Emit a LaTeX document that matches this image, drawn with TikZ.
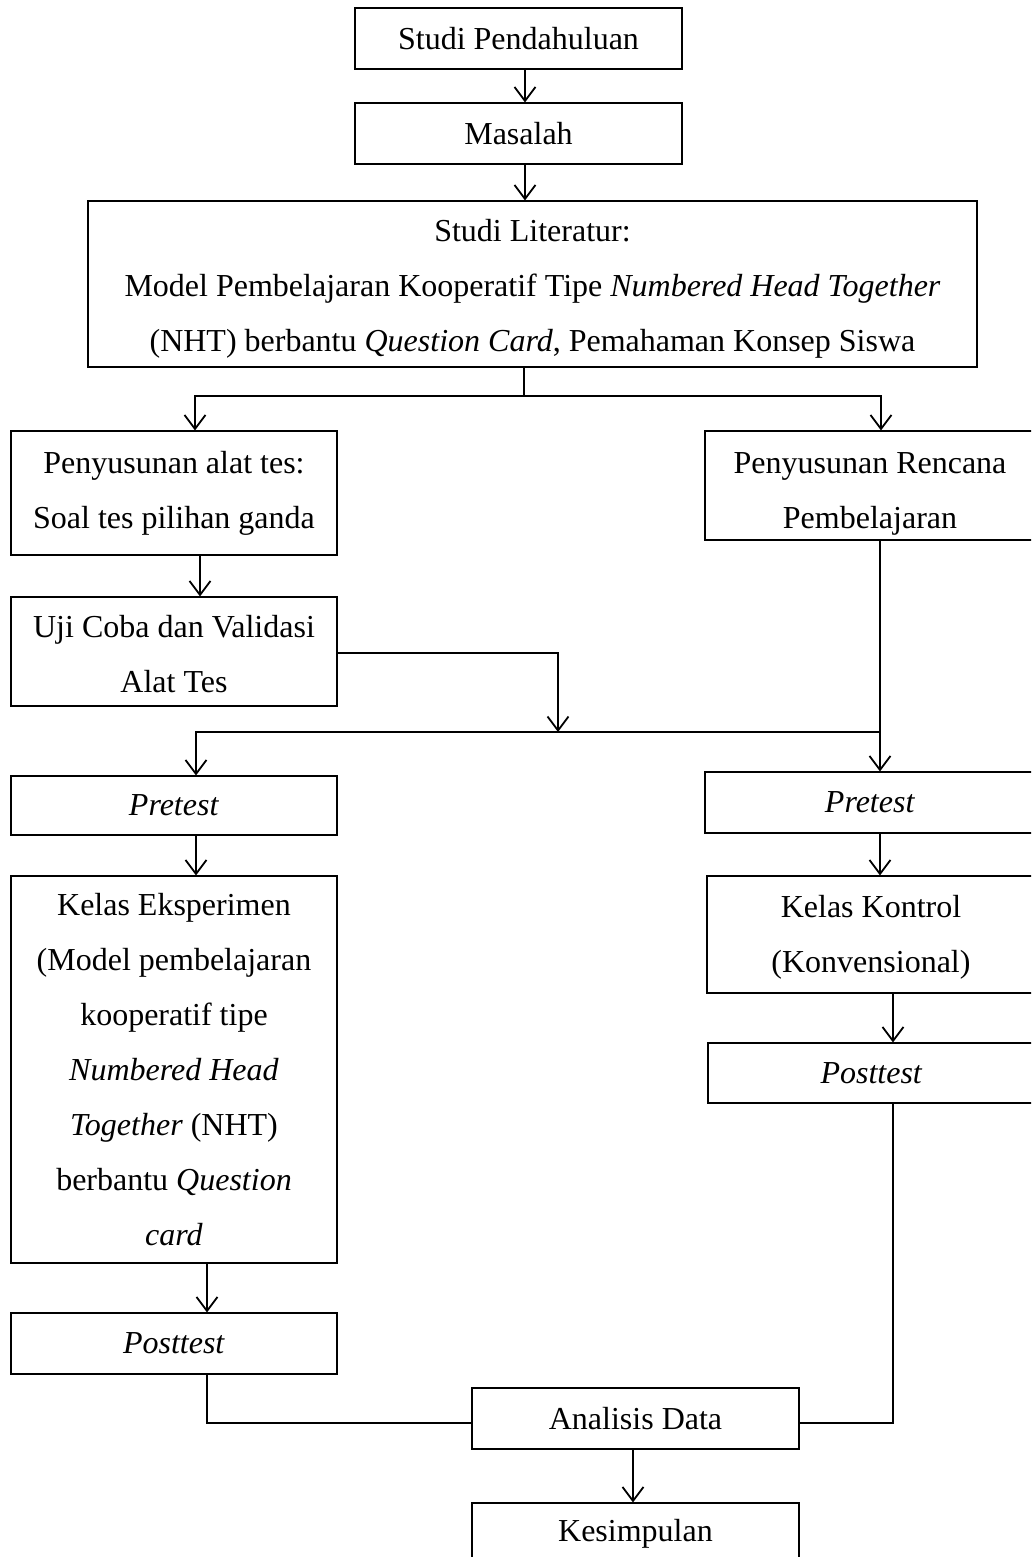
\documentclass[tikz,border=0pt]{standalone}
\usepackage{fontspec}
\setmainfont{Liberation Serif}
\usetikzlibrary{arrows.meta}
\tikzset{
  txt/.style={inner sep=0pt, align=center, font=\fontsize{32}{55}\selectfont},
  box/.style={draw, line width=1.1pt, rectangle, txt},
  conn/.style={line width=1.8pt},
  arr/.style={conn, -{Straight Barb[length=14pt,width=21pt,line width=1.8pt]}}
}
\begin{document}
\begin{tikzpicture}[x=1pt,y=-1pt]
\useasboundingbox (0,0) rectangle (1031,1557);
\clip (0,0) rectangle (1031,1557);
\fill[white] (0,0) rectangle (1031,1557);
% nodes
\node[box, minimum width=327, minimum height=61] (sp) at (518.5,38.5) {Studi Pendahuluan};
\node[box, minimum width=327, minimum height=61] (mas) at (518.5,133.5) {Masalah};
\node[box, minimum width=889, minimum height=166,
  label={[txt, yshift=-5]center:{Studi Literatur:\\ Model Pembelajaran Kooperatif Tipe \textit{Numbered Head Together}\\ (NHT) berbantu \textit{Question Card}, Pemahaman Konsep Siswa}}]
  (lit) at (532.5,284) {};
\node[box, minimum width=326, minimum height=124] (alat) at (174,493) {Penyusunan alat tes:\\ Soal tes pilihan ganda};
\node[box, minimum width=330, minimum height=109,
  label={[txt, yshift=-8]center:{Penyusunan Rencana\\ Pembelajaran}}] (rpp) at (870,485.5) {};
\node[box, minimum width=326, minimum height=109,
  label={[txt, yshift=-3]center:{Uji Coba dan Validasi\\ Alat Tes}}] (uji) at (174,651.5) {};
\node[box, minimum width=326, minimum height=59] (preL) at (174,805.5) {\textit{Pretest}};
\node[box, minimum width=330, minimum height=61] (preR) at (870,802.5) {\textit{Pretest}};
\node[box, minimum width=326, minimum height=387] (kelE) at (174,1069.5)
  {Kelas Eksperimen\\ (Model pembelajaran\\ kooperatif tipe\\ \textit{Numbered Head}\\ \textit{Together} (NHT)\\ berbantu \textit{Question}\\ \textit{card}};
\node[box, minimum width=328, minimum height=117,
  label={[txt, yshift=-2.5]center:{Kelas Kontrol\\ (Konvensional)}}] (kelK) at (871,934.5) {};
\node[box, minimum width=327, minimum height=60] (postR) at (871.5,1073) {\textit{Posttest}};
\node[box, minimum width=326, minimum height=61] (postL) at (174,1343.5) {\textit{Posttest}};
\node[box, minimum width=327, minimum height=61] (ana) at (635.5,1418.5) {Analisis Data};
\node[box, minimum width=327, minimum height=61] (kes) at (635.5,1533.5) {Kesimpulan};
% junctions
\coordinate (j1) at (524,396);
\coordinate (j2) at (558,732);
\coordinate (j3) at (880,732);
% connectors
\draw[arr] ([xshift=6.5]sp.south) -- ([xshift=6.5]mas.north);
\draw[arr] ([xshift=6.5]mas.south) -- ([xshift=-7.5]lit.north);
\draw[conn] ([xshift=-8.5]lit.south) -- (j1);
\draw[arr] (j1) -| ([xshift=21]alat.north);
\draw[arr] (j1) -| ([xshift=11]rpp.north);
\draw[arr] ([xshift=26]alat.south) -- ([xshift=26]uji.north);
\draw[arr] ([yshift=-1.5]uji.east) -| (j2);
\draw[conn] ([xshift=10]rpp.south) -- (j3);
\draw[arr] (j3) -- ([xshift=10]preR.north);
\draw[arr] (j3) -| ([xshift=22]preL.north);
\draw[arr] ([xshift=22]preL.south) -- ([xshift=22]kelE.north);
\draw[arr] ([xshift=33]kelE.south) -- ([xshift=33]postL.north);
\draw[arr] ([xshift=10]preR.south) -- ([xshift=9]kelK.north);
\draw[arr] ([xshift=22]kelK.south) -- ([xshift=21.5]postR.north);
\draw[conn] ([xshift=21.5]postR.south) |- ([yshift=-4.5]ana.east);
\draw[conn] ([xshift=33]postL.south) |- ([yshift=-4.5]ana.west);
\draw[arr] ([xshift=-2.5]ana.south) -- ([xshift=-2.5]kes.north);
\end{tikzpicture}
\end{document}
